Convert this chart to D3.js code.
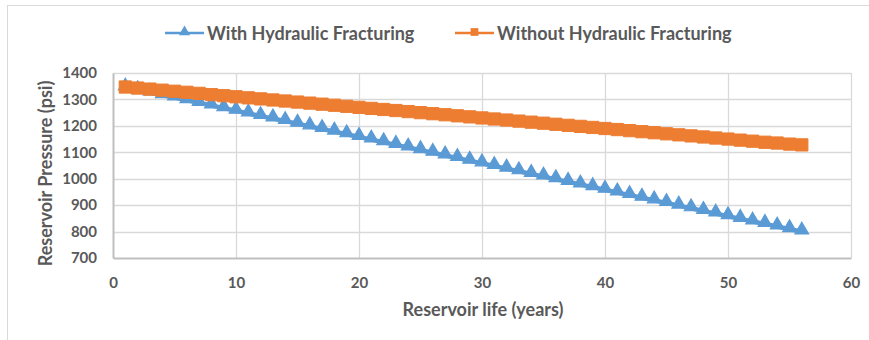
<!DOCTYPE html>
<html>
<head>
<meta charset="utf-8">
<script src="https://cdn.jsdelivr.net/npm/d3@7"></script>
<style>
  html, body { margin: 0; padding: 0; background: #fff; }
  svg { display: block; font-family: Lato, "Open Sans", sans-serif; }
</style>
</head>
<body>
<svg id="chart" width="869" height="340"></svg>
<script>
// Reservoir life in years
const years = d3.range(1, 57);

// Reservoir pressure (psi) per year
const withFrac = [
  1345, 1335, 1326, 1316, 1307, 1297, 1287, 1277, 1267, 1257,
  1247, 1237, 1228, 1218, 1208, 1198, 1188, 1178, 1168, 1158,
  1148, 1138, 1128, 1118, 1108, 1098, 1088, 1078, 1068, 1058,
  1048, 1038, 1028, 1018, 1008, 998, 988, 978, 968, 958,
  948, 938, 928, 918, 908, 898, 888, 878, 868, 858,
  848, 838, 829, 819, 809, 800
];
const withoutFrac = [
  1347, 1343, 1339, 1335, 1331, 1327, 1323, 1318, 1314, 1310,
  1306, 1302, 1298, 1294, 1290, 1286, 1282, 1278, 1274, 1270,
  1266, 1262, 1258, 1254, 1250, 1246, 1242, 1238, 1234, 1230,
  1226, 1222, 1218, 1214, 1210, 1206, 1202, 1198, 1194, 1190,
  1186, 1182, 1178, 1174, 1170, 1166, 1162, 1158, 1154, 1150,
  1146, 1142, 1138, 1135, 1131, 1128
];

const seriesNames = ["With Hydraulic Fracturing", "Without Hydraulic Fracturing"];
const xTicks = [0, 10, 20, 30, 40, 50, 60];
const yTicks = [700, 800, 900, 1000, 1100, 1200, 1300, 1400];

const svg = d3.select("#chart");
const textColor = "#595959";
const gridColor = "#d9d9d9";
const blue = "#5b9bd5";
const orange = "#ed7d31";

// Outer chart frame
svg.append("rect")
  .attr("x", 7.5).attr("y", 5.5)
  .attr("width", 900).attr("height", 400)
  .attr("fill", "none").attr("stroke", gridColor).attr("stroke-width", 1);

const plotLeft = 113, plotRight = 851, plotTop = 73, plotBottom = 258;
const x = d3.scaleLinear().domain([0, 60]).range([plotLeft, plotRight]);
const y = d3.scaleLinear().domain([700, 1400]).range([plotBottom, plotTop]);

// Gridlines
const grid = svg.append("g");
grid.selectAll("line.h").data(yTicks.slice(1)).join("line")
  .attr("x1", plotLeft).attr("x2", plotRight)
  .attr("y1", d => Math.round(y(d)) + 0.5).attr("y2", d => Math.round(y(d)) + 0.5)
  .attr("stroke", gridColor).attr("stroke-width", 1.3);
grid.selectAll("line.v").data(xTicks.slice(1)).join("line")
  .attr("y1", plotTop).attr("y2", plotBottom)
  .attr("x1", d => Math.round(x(d)) + 0.5).attr("x2", d => Math.round(x(d)) + 0.5)
  .attr("stroke", gridColor).attr("stroke-width", 1.3);

// Axes
const xAxis = svg.append("g")
  .attr("transform", `translate(0,${plotBottom})`)
  .call(d3.axisBottom(x).tickValues(xTicks).tickSize(0).tickPadding(19));
const yAxis = svg.append("g")
  .attr("transform", `translate(${plotLeft},0)`)
  .call(d3.axisLeft(y).tickValues(yTicks).tickFormat(d3.format("d")).tickSize(0).tickPadding(16));
[xAxis, yAxis].forEach(g => {
  g.select(".domain").attr("stroke", "#bfbfbf").attr("stroke-width", 2);
  g.selectAll("text")
    .attr("fill", textColor)
    .style("font-size", "15px")
    .style("font-weight", "bold")
    .style("font-family", "Lato, 'Open Sans', sans-serif");
});

// Axis titles
svg.append("text")
  .attr("x", 483).attr("y", 316)
  .attr("text-anchor", "middle")
  .attr("fill", textColor)
  .style("font-size", "18px").style("font-weight", "bold")
  .text("Reservoir life (years)");
svg.append("text")
  .attr("transform", `translate(52,${(plotTop + plotBottom) / 2 + 8}) rotate(-90)`)
  .attr("text-anchor", "middle")
  .attr("fill", textColor)
  .style("font-size", "18px").style("font-weight", "bold")
  .text("Reservoir Pressure (psi)");

const line = d3.line().x(d => x(d[0])).y(d => y(d[1]));
const withData = years.map((yr, i) => [yr, withFrac[i]]);
const withoutData = years.map((yr, i) => [yr, withoutFrac[i]]);

const triangle = d3.symbol().type(d3.symbolTriangle).size(80);
const square = d3.symbol().type(d3.symbolSquare).size(150);

// With hydraulic fracturing (first series, drawn underneath)
svg.append("path").datum(withData)
  .attr("d", line).attr("fill", "none")
  .attr("stroke", blue).attr("stroke-width", 4.5);
svg.append("g").selectAll("path").data(withData).join("path")
  .attr("transform", d => `translate(${x(d[0])},${y(d[1]) - 1.5})`)
  .attr("d", triangle).attr("fill", blue)
  .attr("stroke", blue).attr("stroke-width", 1.2);

// Without hydraulic fracturing (second series, on top)
svg.append("path").datum(withoutData)
  .attr("d", line).attr("fill", "none")
  .attr("stroke", orange).attr("stroke-width", 3);
svg.append("g").selectAll("path").data(withoutData).join("path")
  .attr("transform", d => `translate(${x(d[0])},${y(d[1])})`)
  .attr("d", square).attr("fill", orange)
  .attr("stroke", orange).attr("stroke-width", 1);

// Legend
const legend = [
  { name: seriesNames[0], color: blue, sym: d3.symbol().type(d3.symbolTriangle).size(55), x0: 165 },
  { name: seriesNames[1], color: orange, sym: d3.symbol().type(d3.symbolSquare).size(60), x0: 455 }
];
const lg = svg.append("g").selectAll("g").data(legend).join("g")
  .attr("transform", d => `translate(${d.x0},33)`);
lg.append("line").attr("x1", 0).attr("x2", 39).attr("y1", 0).attr("y2", 0)
  .attr("stroke", d => d.color).attr("stroke-width", 2.5);
lg.append("path").attr("transform", "translate(19.5,-1)")
  .attr("d", d => d.sym()).attr("fill", d => d.color);
lg.append("text").attr("x", 42).attr("y", 6.5)
  .attr("fill", textColor)
  .style("font-size", "18px").style("font-weight", "bold")
  .text(d => d.name);
</script>
</body>
</html>
